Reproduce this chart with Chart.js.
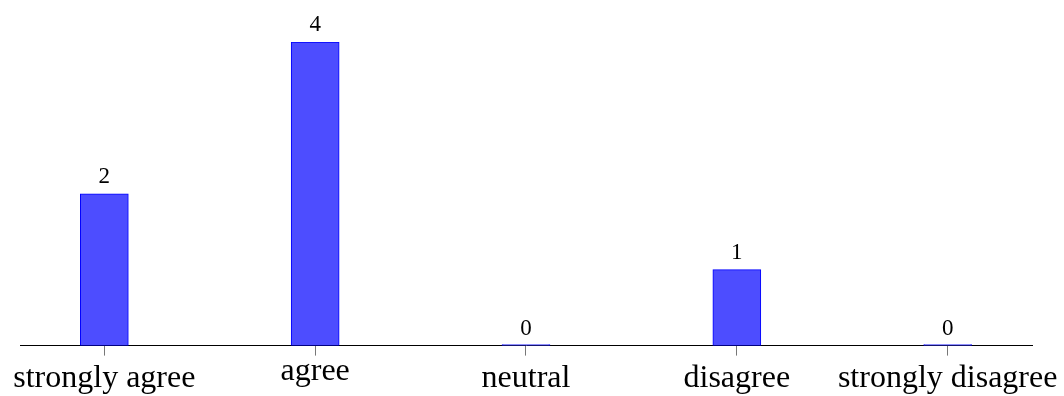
<!DOCTYPE html>
<html>
<head>
<meta charset="utf-8">
<script src="https://cdn.jsdelivr.net/npm/chart.js@4/dist/chart.umd.min.js"></script>
<style>
html,body{margin:0;padding:0;background:#fff;}
#wrap{width:1064px;height:396px;position:relative;}
</style>
</head>
<body>
<div id="wrap"><canvas id="c" width="1064" height="396"></canvas></div>
<script>
const categories = ["strongly agree", "agree", "neutral", "disagree", "strongly disagree"];
const counts = [2, 4, 0, 1, 0];
const yMin = 0;
const yMax = 4;

const valueLabels = {
  id: 'valueLabels',
  afterDatasetsDraw(chart) {
    const ctx = chart.ctx;
    const meta = chart.getDatasetMeta(0);
    ctx.save();
    ctx.font = '23px "Liberation Serif"';
    ctx.fillStyle = '#000';
    ctx.textAlign = 'center';
    ctx.textBaseline = 'alphabetic';
    meta.data.forEach((bar, i) => {
      const yTop = chart.scales.y.getPixelForValue(counts[i]);
      ctx.fillText(String(counts[i]), bar.x, yTop - 11);
    });
    ctx.restore();
  }
};

// labels without ascenders sit higher (top-anchored like the reference)
const hasAscender = (s) => /[bdfhklt]/.test(s);

new Chart(document.getElementById('c'), {
  type: 'bar',
  data: {
    datasets: [{
      data: counts.map((v, i) => ({x: i, y: v})),
      backgroundColor: 'rgb(77,77,255)',
      borderColor: 'rgb(0,0,255)',
      borderWidth: 1,
      borderSkipped: false,
      barThickness: 48,
      minBarLength: 1
    }]
  },
  options: {
    responsive: false,
    animation: false,
    events: [],
    layout: { padding: { left: 20, right: 31, top: 42, bottom: -6 } },
    plugins: { legend: { display: false }, tooltip: { enabled: false } },
    scales: {
      x: {
        type: 'linear',
        offset: false,
        min: -0.4,
        max: 4.4,
        afterBuildTicks(scale) {
          scale.ticks = categories.map((c, i) => ({ value: i }));
        },
        ticks: {
          autoSkip: false,
          maxRotation: 0,
          minRotation: 0,
          padding: 4,
          color: '#000',
          font: (ctx) => {
            const lbl = categories[ctx.index] || '';
            return { family: '"Liberation Serif"', size: 32, lineHeight: hasAscender(lbl) ? 1.2 : 0.76 };
          },
          callback: (v) => categories[v]
        },
        grid: {
          offset: false,
          drawOnChartArea: false,
          drawTicks: true,
          tickLength: 10,
          tickColor: '#777',
          tickWidth: 1
        },
        border: { display: true, color: '#000', width: 1 }
      },
      y: {
        display: false,
        min: yMin,
        max: yMax
      }
    }
  },
  plugins: [valueLabels]
});
</script>
</body>
</html>
